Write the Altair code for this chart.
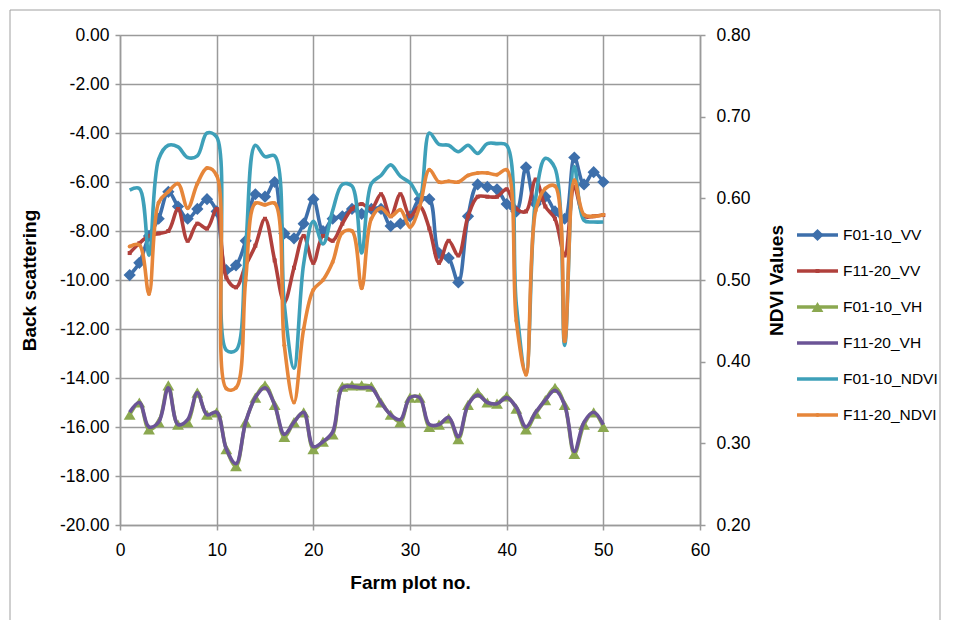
import altair as alt
import pandas as pd

# Farm plot numbers (x axis)
plot_no = list(range(1, 51))

# Backscattering coefficients (dB), primary axis
f01_10_vv = [-9.8, -9.3, -8.2, -7.5, -6.4, -7.0, -7.5, -7.1, -6.7, -7.2,
             -9.6, -9.4, -8.4, -6.5, -6.6, -6.0, -8.1, -8.3, -7.7, -6.7,
             -8.0, -7.5, -7.4, -7.1, -7.3, -7.1, -7.1, -7.8, -7.7, -7.4,
             -6.7, -6.7, -8.9, -9.1, -10.1, -7.4, -6.1, -6.2, -6.3, -6.9,
             -7.2, -5.4, -6.9, -6.6, -7.2, -7.5, -5.0, -6.1, -5.6, -6.0]
f11_20_vv = [-8.9, -8.5, -8.2, -8.1, -8.0, -7.1, -8.4, -7.7, -7.9, -7.1,
             -9.9, -10.3, -9.4, -8.6, -7.5, -9.2, -10.9, -9.5, -8.2, -9.3,
             -8.2, -8.4, -7.7, -7.1, -6.9, -7.1, -6.5, -7.4, -6.5, -7.4,
             -7.0, -7.9, -9.3, -8.4, -9.0, -7.4, -6.6, -6.6, -6.6, -6.3,
             -7.1, -7.2, -5.9, -7.0, -7.5, -9.0, -6.2, -7.4, -7.4, -7.35]
f01_10_vh = [-15.5, -15.0, -16.1, -15.8, -14.3, -15.9, -15.8, -14.6, -15.5, -15.4,
             -16.9, -17.6, -15.8, -14.8, -14.3, -15.1, -16.4, -15.8, -15.4, -16.9,
             -16.6, -16.3, -14.35, -14.3, -14.3, -14.35, -15.0, -15.5, -15.8, -14.8,
             -14.8, -16.0, -15.9, -15.65, -16.5, -15.1, -14.6, -15.0, -15.05, -14.75,
             -15.25, -16.1, -15.45, -14.9, -14.4, -15.1, -17.1, -15.9, -15.4, -16.0]
f11_20_vh = [-15.4, -15.0, -16.0, -15.8, -14.4, -15.9, -15.7, -14.6, -15.5, -15.4,
             -16.9, -17.5, -15.8, -14.8, -14.4, -15.1, -16.3, -15.8, -15.4, -16.8,
             -16.6, -16.2, -14.4, -14.35, -14.4, -14.4, -15.0, -15.5, -15.7, -14.8,
             -14.8, -15.9, -15.9, -15.6, -16.4, -15.1, -14.7, -15.0, -15.05, -14.8,
             -15.2, -16.0, -15.4, -14.9, -14.5, -15.1, -17.0, -15.8, -15.4, -15.9]

# NDVI values, secondary axis
f01_10_ndvi = [0.610, 0.612, 0.530, 0.648, 0.665, 0.663, 0.650, 0.652, 0.680, 0.675,
               0.414, 0.414, 0.540, 0.665, 0.651, 0.652, 0.470, 0.392, 0.520, 0.572,
               0.544, 0.585, 0.617, 0.615, 0.533, 0.618, 0.628, 0.641, 0.627, 0.619,
               0.603, 0.680, 0.666, 0.665, 0.657, 0.665, 0.655, 0.667, 0.667, 0.665,
               0.470, 0.386, 0.600, 0.649, 0.637, 0.420, 0.639, 0.573, 0.571, 0.571]
f11_20_ndvi = [0.541, 0.543, 0.483, 0.595, 0.608, 0.618, 0.588, 0.618, 0.637, 0.628,
               0.367, 0.368, 0.500, 0.594, 0.592, 0.594, 0.420, 0.350, 0.440, 0.488,
               0.500, 0.522, 0.558, 0.560, 0.490, 0.575, 0.588, 0.578, 0.586, 0.565,
               0.590, 0.635, 0.620, 0.621, 0.620, 0.628, 0.631, 0.631, 0.629, 0.635,
               0.450, 0.384, 0.585, 0.612, 0.615, 0.425, 0.622, 0.580, 0.578, 0.580]

series_names = ["F01-10_VV", "F11-20_VV", "F01-10_VH", "F11-20_VH",
                "F01-10_NDVI", "F11-20_NDVI"]
series_colors = ["#3D6FAB", "#B0403C", "#8BA850", "#6B5496", "#3EA0B9", "#E6863A"]

# marker shape and size for each series (None = plain line)
markers = {
    "F01-10_VV": ("diamond", 150),
    "F11-20_VV": ("square", 16),
    "F01-10_VH": ("triangle-up", 140),
    "F11-20_VH": None,
    "F01-10_NDVI": None,
    "F11-20_NDVI": ("circle", 16),
}

backscatter = pd.DataFrame({
    "plot": plot_no * 4,
    "series": [n for n in series_names[:4] for _ in plot_no],
    "value": f01_10_vv + f11_20_vv + f01_10_vh + f11_20_vh,
})
ndvi = pd.DataFrame({
    "plot": plot_no * 2,
    "series": [n for n in series_names[4:] for _ in plot_no],
    "value": f01_10_ndvi + f11_20_ndvi,
})

color = alt.Color("series:N",
                  scale=alt.Scale(domain=series_names, range=series_colors),
                  legend=None)

# plain hyphen as the minus sign in tick labels
hyphen_labels = "replace(format(datum.value, '.2f'), '\u2212', '-')"

x_scale = alt.Scale(domain=[0, 60], nice=False, zero=False)
x_main = alt.X("plot:Q", scale=x_scale,
               axis=alt.Axis(values=list(range(0, 61, 10)), format="d",
                             title="Farm plot no.", grid=True, labelFlush=False,
                             labelPadding=11, titlePadding=15))
x_hidden = alt.X("plot:Q", scale=x_scale, axis=None)

y_left = alt.Y("value:Q", scale=alt.Scale(domain=[-20, 0], nice=False),
               axis=alt.Axis(values=list(range(-20, 1, 2)), labelExpr=hyphen_labels,
                             title="Back scattering", orient="left", grid=True,
                             labelPadding=6, titlePadding=20))
y_right = alt.Y("value:Q", scale=alt.Scale(domain=[0.2, 0.8], nice=False, zero=False),
                axis=alt.Axis(values=[0.2, 0.3, 0.4, 0.5, 0.6, 0.7, 0.8], format=".2f",
                              title="NDVI Values", orient="right", grid=False,
                              titleAngle=270, labelPadding=11, titlePadding=36))


def series_layers(df, name, x, y):
    base = alt.Chart(df).transform_filter(alt.datum.series == name)
    out = [base.mark_line(interpolate="catmull-rom", strokeWidth=3.6)
           .encode(x=x, y=y, color=color)]
    m = markers[name]
    if m:
        out.append(base.mark_point(shape=m[0], size=m[1], filled=True, opacity=1)
                   .encode(x=x, y=y, color=color))
    return out


left_layers = []
for name in series_names[:4]:
    left_layers += series_layers(backscatter, name, x_main, y_left)
left_group = alt.layer(*left_layers)

right_layers = []
for name in series_names[4:]:
    right_layers += series_layers(ndvi, name, x_hidden, y_right)
right_group = alt.layer(*right_layers)

# legend: line swatch + marker + label per series
legend_df = pd.DataFrame({"series": series_names, "row": list(range(len(series_names)))})
lx = alt.Scale(domain=[0, 1], range=[677, 718])
ly = alt.Scale(domain=[0, 5], range=[200, 380])
leg_y = alt.Y("row:Q", scale=ly, axis=None)
leg_base = alt.Chart(legend_df)
leg_layers = [
    leg_base.mark_rule(strokeWidth=3.6).encode(
        x=alt.X(datum=0, scale=lx, axis=None), x2=alt.X2(datum=1), y=leg_y, color=color),
]
for name in series_names:
    m = markers[name]
    if m:
        leg_layers.append(
            leg_base.transform_filter(alt.datum.series == name)
            .mark_point(shape=m[0], size=m[1], filled=True, opacity=1)
            .encode(x=alt.X(datum=0.5, scale=lx, axis=None), y=leg_y, color=color))
leg_layers.append(
    leg_base.mark_text(align="left", baseline="middle", dx=5, fontSize=15.5, color="black")
    .encode(x=alt.X(datum=1, scale=lx, axis=None), y=leg_y, text="series:N"))
legend_group = alt.layer(*leg_layers)

# outer chart frame (top, left and right edges)
frame_df = pd.DataFrame({"k": [0]})
frame = [
    alt.Chart(frame_df).mark_rule(color="#a0a0a0", strokeWidth=1).encode(
        x=alt.value(-110), x2=alt.value(820), y=alt.value(-25)),
    alt.Chart(frame_df).mark_rule(color="#a0a0a0", strokeWidth=1).encode(
        x=alt.value(-110), y=alt.value(-25), y2=alt.value(592)),
    alt.Chart(frame_df).mark_rule(color="#a0a0a0", strokeWidth=1).encode(
        x=alt.value(820), y=alt.value(-25), y2=alt.value(592)),
]

chart = (
    alt.layer(*frame, left_group, right_group, legend_group)
    .resolve_scale(x="independent", y="independent")
    .properties(
        width=580, height=490,
        autosize=alt.AutoSizeParams(type="none"),
        padding={"left": 120, "top": 35, "right": 260, "bottom": 95},
    )
    .configure(font="Liberation Sans", background="white")
    .configure_view(stroke=None)
    .configure_axis(
        labelFontSize=17.5, labelColor="black", labelFont="Liberation Sans",
        titleFontSize=19, titleFontWeight="bold", titleColor="black",
        titleFont="Liberation Sans",
        gridColor="#9a9a9a", gridWidth=1.5,
        domainColor="#9a9a9a", domainWidth=1.5,
        tickColor="#9a9a9a", tickSize=5, tickWidth=1.5,
    )
)

chart.save("out.html", embed_options={"renderer": "svg", "actions": False})
